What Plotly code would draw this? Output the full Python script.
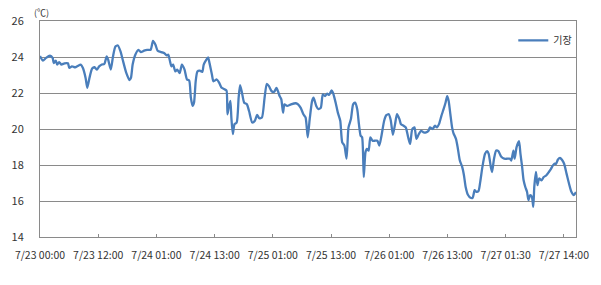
import plotly.graph_objects as go

# category index (position along the category axis) and temperature
idx = [0, 1.2, 2.5, 4.1, 5.2, 5.7, 6.5, 7.1, 7.9, 8.8, 10.1, 11.5, 12.1, 13.2, 14.5, 15.5,
       16.8, 17.7, 18.8, 19.5, 20.4, 21.5, 22.5, 23.5, 24.4, 25.5, 26.5, 27.5, 28.1, 29.2,
       30.1, 31.1, 32.1, 33.2, 34.1, 35.5, 36.9, 37.5, 38.2, 39.3, 40.6, 41.6, 42.9, 44.2,
       45.6, 46.6, 47.6, 48.5, 50.0, 51.3, 52.2, 52.9, 53.6, 54.2, 54.9, 55.8, 56.6, 57.6,
       58.5, 59.6, 60.6, 61.5, 62.2, 62.9, 63.5, 64.2, 64.9, 65.9, 66.9, 67.5, 68.6, 69.3,
       69.9, 70.9, 71.5, 72.9, 73.9, 74.9, 76.2, 76.9, 77.3, 77.8, 78.5, 78.9, 79.5, 80.2,
       81.1, 81.9, 82.5, 83.3, 84.2, 85.3, 86.2, 87.5, 88.6, 89.5, 90.4, 91.5, 92.6, 93.5,
       94.4, 95.5, 96.6, 97.5, 98.2, 98.8, 99.5, 100.2, 100.8, 101.9, 103.5, 105.5, 106.4,
       107.5, 108.6, 109.5, 110.4, 111.2, 112.2, 112.8, 113.9, 114.8, 115.8, 116.6, 117.5,
       118.4, 119.2, 120.2, 120.8, 121.9, 122.8, 123.8, 124.6, 125.5, 126.4, 127.2, 128.2,
       129.1, 129.9, 130.8, 131.5, 132.2, 132.8, 133.5, 134.2, 134.8, 135.5, 136.2, 137.1,
       138.2, 139.1, 139.9, 140.8, 141.9, 142.8, 143.8, 144.6, 145.5, 146.4, 147.2, 148.2,
       148.8, 149.9, 150.8, 151.8, 152.6, 153.5, 154.4, 155.2, 156.2, 157.1, 158.2, 159.2,
       160.2, 160.8, 161.9, 162.8, 163.7, 164.5, 165.5, 166.4, 167.2, 167.9, 168.5, 169.2,
       169.9, 170.5, 171.5, 172.2, 173.1, 174.1, 174.8, 175.5, 176.5, 177.5, 178.4, 179.2,
       179.9, 180.8, 181.5, 182.4, 183.5, 184.4, 185.0, 185.9, 186.4, 187.2, 188.1, 189.0,
       190.1, 191.4, 192.8, 193.8, 194.3, 195.2, 195.7, 196.5, 197.5, 198.1, 198.8, 199.4,
       200.1, 200.8, 201.4, 202.1, 202.8, 203.4, 203.8, 204.5, 205.1, 205.8, 206.8, 207.7,
       208.8, 209.8, 210.7, 211.5, 212.1, 212.8, 213.5, 214.4, 215.2, 216.1, 217.1, 218.1,
       219.1, 220.1, 221.0]

temp = [24.05, 23.8, 23.95, 24.07, 23.95, 23.66, 23.8, 23.58, 23.72, 23.58, 23.65, 23.65, 23.39,
        23.48, 23.43, 23.5, 23.58, 23.39, 22.84, 22.29, 22.84, 23.36, 23.43, 23.3, 23.48, 23.58,
        23.61, 24.03, 23.85, 23.3, 24.03, 24.58, 24.64, 24.31, 23.85, 23.15, 22.72, 22.84, 23.58,
        24.13, 24.4, 24.27, 24.35, 24.4, 24.4, 24.9, 24.68, 24.35, 24.27, 24.21, 24.09, 24.13,
        23.76, 23.48, 23.58, 23.2, 23.3, 23.11, 23.58, 23.3, 22.75, 22.7, 21.74, 21.28, 21.46,
        22.66, 23.2, 23.24, 23.17, 23.58, 23.85, 23.98, 23.66, 23.02, 22.65, 22.75, 22.56, 22.29,
        22.2, 22.14, 20.82, 21.19, 21.56, 20.64, 19.72, 20.27, 20.36, 21.74, 22.44, 22.0, 21.46,
        21.37, 21.0, 20.36, 20.46, 20.79, 20.6, 20.64, 21.74, 22.5, 22.38, 22.1, 22.07, 22.29,
        22.07, 21.83, 21.65, 20.91, 21.37, 21.28, 21.37, 21.43, 21.37, 21.17, 20.82, 20.64, 19.54,
        20.55, 21.56, 21.74, 21.28, 21.1, 21.19, 21.92, 21.83, 21.96, 21.89, 22.14, 22.01, 21.46,
        20.91, 20.46, 19.26, 19.08, 18.35, 20.09, 20.55, 21.37, 21.46, 21.1, 20.27, 19.63, 19.54,
        17.33, 18.71, 18.9, 18.8, 19.54, 19.35, 19.35, 19.35, 19.08, 19.63, 20.46, 20.77, 20.82,
        20.5, 19.68, 20.27, 20.82, 20.55, 20.27, 20.18, 20.09, 19.54, 19.17, 20.0, 20.09, 19.45,
        19.72, 19.9, 19.81, 19.81, 19.9, 20.09, 20.0, 20.18, 20.09, 20.27, 20.73, 21.1, 21.46,
        21.83, 21.56, 20.82, 20.09, 19.76, 19.45, 18.99, 18.25, 17.88, 17.43, 16.78, 16.33, 16.18,
        16.18, 16.6, 16.51, 16.55, 17.05, 17.88, 18.62, 18.77, 18.62, 17.88, 17.61, 18.35, 18.8,
        18.77, 18.47, 18.35, 18.35, 18.35, 18.25, 18.8, 18.35, 18.99, 19.32, 18.62, 17.88, 17.15,
        16.78, 16.51, 16.05, 16.33, 16.23, 15.68, 16.78, 17.61, 16.88, 17.25, 17.15, 17.33, 17.43,
        17.61, 17.79, 17.98, 18.07, 18.07, 18.29, 18.4, 18.29, 18.07, 17.52, 16.97, 16.51, 16.33,
        16.5]

tick_idx = [0, 24, 48, 72, 96, 120, 144, 168, 192, 216]
tick_labels = ["7/23 00:00", "7/23 12:00", "7/24 01:00", "7/24 13:00", "7/25 01:00",
               "7/25 13:00", "7/26 01:00", "7/26 13:00", "7/27 01:30", "7/27 14:00"]
n_categories = 222
series_name = "기장"

FONT = "Noto Sans CJK KR"
GRID = "#8a8a8a"

fig = go.Figure()
fig.add_trace(go.Scatter(
    x=idx, y=temp, mode="lines", name=series_name,
    line=dict(color="#4a7ebb", width=2.3, shape="spline", smoothing=0.6),
    showlegend=True,
))

fig.update_layout(
    width=601, height=285,
    margin=dict(l=31, r=17, t=19, b=48),
    paper_bgcolor="white", plot_bgcolor="white",
    font=dict(family=FONT, size=11, color="#333333"),
    showlegend=True,
    legend=dict(x=0.883, y=0.91, xanchor="left", yanchor="middle",
                bgcolor="rgba(0,0,0,0)", font=dict(size=10, color="#333333"),
                borderwidth=0),
    xaxis=dict(
        range=[0, n_categories - 1], tickmode="array", tickvals=tick_idx, ticktext=tick_labels,
        ticks="inside", ticklen=3, tickcolor=GRID, showgrid=False, zeroline=False,
        showline=True, linecolor=GRID, linewidth=1, mirror=True,
        tickfont=dict(size=10.5, color="#333333"), ticklabelstandoff=8,
    ),
    yaxis=dict(
        range=[14, 26], dtick=2, showgrid=True, gridcolor=GRID, gridwidth=1,
        zeroline=False, showline=True, linecolor=GRID, linewidth=1, mirror=True,
        ticks="", tickfont=dict(size=11, color="#333333"), ticklabelstandoff=13,
    ),
    annotations=[dict(text="(℃)", xref="paper", yref="paper", x=0.003, y=1.0,
                      xanchor="center", yanchor="bottom", showarrow=False,
                      font=dict(size=9, color="#333333"))],
)

fig.write_html("out.html")
